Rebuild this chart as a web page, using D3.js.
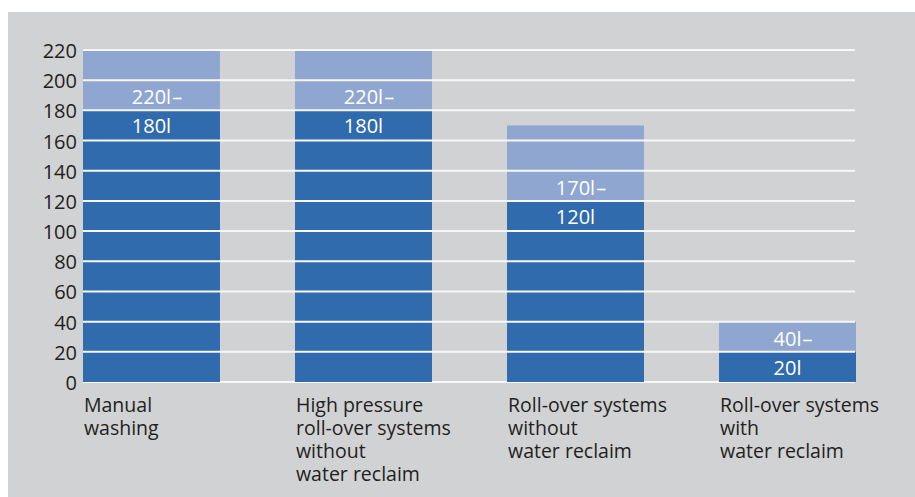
<!DOCTYPE html>
<html>
<head>
<meta charset="utf-8">
<script src="https://cdn.jsdelivr.net/npm/d3@7"></script>
<style>
  body { margin: 0; background: #fff; }
  text { font-family: "Open Sans", sans-serif; }
</style>
</head>
<body>
<div id="chart-area"></div>
<script>
// data
const categories = [
  ["Manual", "washing"],
  ["High pressure", "roll-over systems", "without", "water reclaim"],
  ["Roll-over systems", "without", "water reclaim"],
  ["Roll-over systems", "with", "water reclaim"]
]
const lowValues = [180, 180, 120, 20]
const highValues = [220, 220, 170, 40]
const yTicks = [0, 20, 40, 60, 80, 100, 120, 140, 160, 180, 200, 220]

function drawChart() {
    const svgWidth = 915
    const svgHeight = 497

    const svg = d3.select("#chart-area")
        .append("svg")
        .attr("width", svgWidth)
        .attr("height", svgHeight)

    // grey panel
    svg.append("rect")
        .attr("x", 8).attr("y", 12)
        .attr("width", svgWidth - 8).attr("height", svgHeight - 12)
        .attr("fill", "#d1d2d4")

    const x = d3.scaleBand()
        .domain(d3.range(categories.length))
        .range([83, 856])
        .paddingInner(0.354)
        .paddingOuter(0)

    const y = d3.scaleLinear()
        .domain([0, 220])
        .range([382, 50])

    const gridX0 = 83, gridX1 = 855

    // zero line sits behind the bars
    svg.append("line")
        .attr("x1", gridX0).attr("x2", gridX1)
        .attr("y1", y(0)).attr("y2", y(0))
        .attr("stroke", "#f7f7f7").attr("stroke-width", 2)

    const bars = svg.append("g")
    bars.selectAll(".high")
        .data(highValues)
        .enter().append("rect")
        .attr("x", (d, i) => x(i))
        .attr("width", x.bandwidth())
        .attr("y", d => y(d))
        .attr("height", d => y(0) - y(d))
        .attr("fill", "#8fa6d1")

    bars.selectAll(".low")
        .data(lowValues)
        .enter().append("rect")
        .attr("x", (d, i) => x(i))
        .attr("width", x.bandwidth())
        .attr("y", d => y(d))
        .attr("height", d => y(0) - y(d))
        .attr("fill", "#306bad")

    // grid lines over the bars
    svg.append("g").selectAll("line")
        .data(yTicks.filter(d => d > 0))
        .enter().append("line")
        .attr("x1", gridX0).attr("x2", gridX1)
        .attr("y1", d => y(d)).attr("y2", d => y(d))
        .attr("stroke", "#f7f7f7").attr("stroke-width", 2)

    // y tick labels
    svg.append("g").selectAll("text")
        .data(yTicks)
        .enter().append("text")
        .attr("x", 77)
        .attr("y", d => y(d))
        .attr("dy", "0.4em")
        .attr("text-anchor", "end")
        .attr("font-size", 20)
        .attr("fill", "#231f20")
        .text(d => d)

    // value labels
    const labels = svg.append("g")
    lowValues.forEach((v, i) => {
        const cx = x(i) + x.bandwidth() / 2
        labels.append("text")
            .attr("x", cx)
            .attr("y", y(v) + 23)
            .attr("text-anchor", "middle")
            .attr("font-size", 20)
            .attr("fill", "#fff")
            .text(v + "l")

        const t = labels.append("text")
            .attr("x", cx)
            .attr("y", y(v) - 6)
            .attr("text-anchor", "middle")
            .attr("font-size", 20)
            .attr("fill", "#fff")
            .text(highValues[i] + "l")
        const w = t.node().getComputedTextLength()
        labels.append("text")
            .attr("x", cx + w / 2 + 1)
            .attr("y", y(v) - 6)
            .attr("font-size", 20)
            .attr("fill", "#fff")
            .text("–")
    })

    // category labels, one text per line
    const catGroups = svg.append("g").selectAll("g")
        .data(categories)
        .enter().append("g")
        .attr("transform", (d, i) => `translate(${x(i) + 1}, 412)`)

    catGroups.selectAll("text")
        .data(d => d)
        .enter().append("text")
        .attr("x", 0)
        .attr("y", (d, i) => i * 23)
        .attr("font-size", 19.5)
        .attr("fill", "#231f20")
        .text(d => d)
}

drawChart()
</script>
</body>
</html>
